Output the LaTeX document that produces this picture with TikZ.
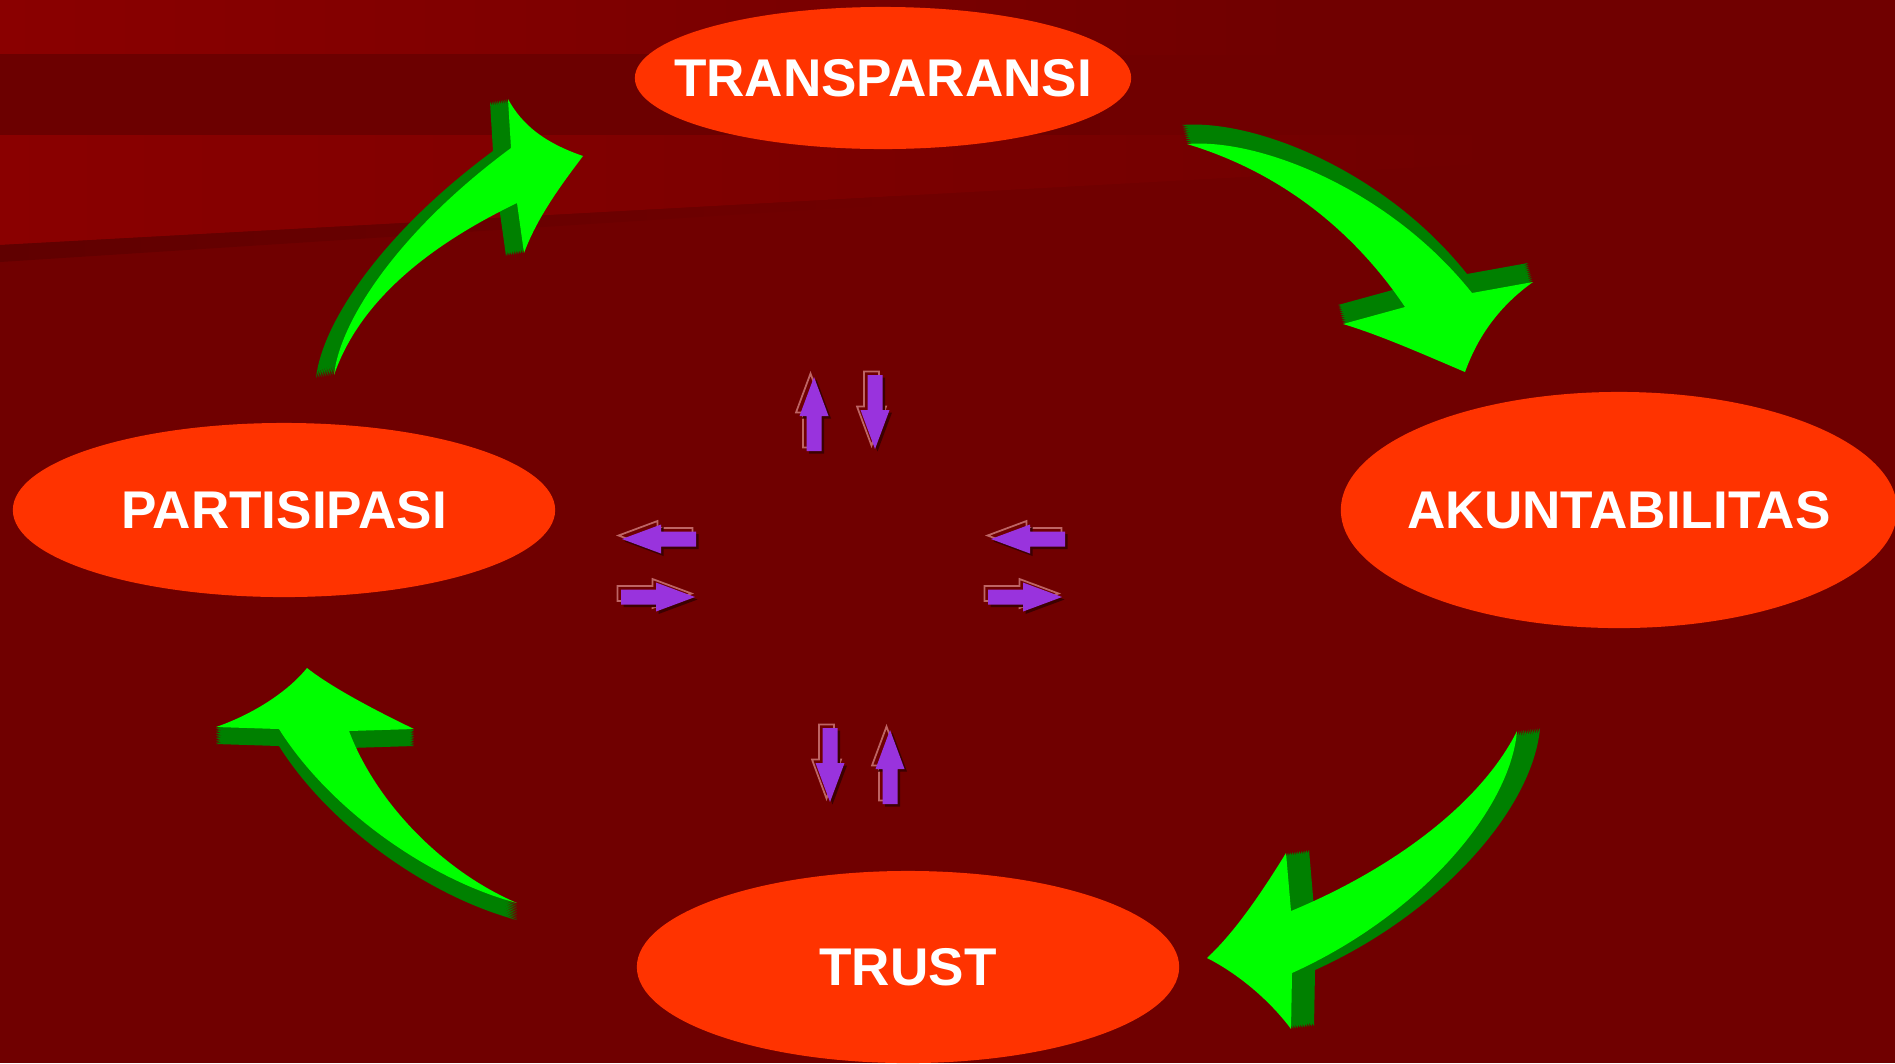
\documentclass[tikz,border=0pt]{standalone}
\usepackage{fontspec}
\setmainfont{Liberation Sans}
\usetikzlibrary{shapes.geometric}

\definecolor{bgred}{RGB}{112,0,0}
\definecolor{bandred}{RGB}{138,0,0}
\definecolor{midred}{RGB}{108,0,0}
\definecolor{edgered}{RGB}{96,0,0}
\definecolor{ovalred}{RGB}{255,51,0}
\definecolor{gbright}{RGB}{0,255,0}
\definecolor{gdark}{RGB}{0,128,0}
\definecolor{arrowviolet}{RGB}{153,51,221}
\definecolor{hilite}{RGB}{190,100,100}
\definecolor{shadowred}{RGB}{60,0,0}

\begin{document}
\begin{tikzpicture}[x=0.01cm,y=-0.01cm,
	oval/.style={ellipse, fill=ovalred, inner sep=0pt},
	ovaltext/.style={text=white, inner sep=0pt,
		font=\fontsize{15.1}{18}\selectfont\bfseries},
	blockarr/.pic={\path[pic actions] (-37,-7.5) -- (-2,-7.5) -- (-2,-14.5) -- (37,0)
		-- (-2,14.5) -- (-2,7.5) -- (-37,7.5) -- cycle;}]
	
	% --- Background
	\useasboundingbox (0,0) rectangle (1895,1063);
	\clip (0,0) rectangle (1895,1063);
	\fill[bgred] (0,0) rectangle (1895,1063);
	\shade[left color=bandred, right color=bgred] (0,0) rectangle (1300,54);
	\fill[midred] (0,54) rectangle (1100,135);
	\shade[left color=bandred, right color=bgred] (0,135) -- (1500,135) -- (1500,163) -- (0,245) -- cycle;
	\shade[left color=edgered, right color=bgred] (0,245) -- (900,196) -- (900,204) -- (0,262) -- cycle;
	
	% --- The four principles
	\node[oval, minimum width=4.96cm, minimum height=1.42cm,
		label={[ovaltext]center:TRANSPARANSI}] (trans) at (883,78) {};
	\node[oval, minimum width=5.56cm, minimum height=2.36cm,
		label={[ovaltext]center:AKUNTABILITAS}] (akun) at (1619,510) {};
	\node[oval, minimum width=5.42cm, minimum height=1.92cm,
		label={[ovaltext]center:TRUST}] (trust) at (908,967) {};
	\node[oval, minimum width=5.42cm, minimum height=1.74cm,
		label={[ovaltext]center:PARTISIPASI}] (partis) at (284,510) {};
	
	% --- Curved green arrows (dark copies first give the 3D side)
	% partisipasi -> transparansi
	\foreach \s in {10,...,0}{
		\ifnum\s>0 \def\gcol{gdark}\else\def\gcol{gbright}\fi
		\fill[\gcol, shift={(-1.8*\s,0.3*\s)}] (334,375) .. controls (340,320) and (400,230) .. (511,148)
		-- (508,99) .. controls (522,125) and (545,143) .. (583,156)
		.. controls (565,180) and (538,215) .. (524,253)
		-- (517,203) .. controls (430,245) and (360,300) .. cycle;
	}
	% transparansi -> akuntabilitas
	\foreach \s in {10,...,0}{
		\ifnum\s>0 \def\gcol{gdark}\else\def\gcol{gbright}\fi
		\fill[\gcol, shift={(-0.5*\s,-1.9*\s)}] (1187,144) .. controls (1260,138) and (1390,190) .. (1472,293)
		-- (1533,282) .. controls (1505,302) and (1480,330) .. (1465,372)
		.. controls (1425,355) and (1380,335) .. (1343,324)
		-- (1405,307) .. controls (1360,240) and (1290,175) .. cycle;
	}
	% akuntabilitas -> trust
	\foreach \s in {10,...,0}{
		\ifnum\s>0 \def\gcol{gdark}\else\def\gcol{gbright}\fi
		\fill[\gcol, shift={(2.3*\s,-0.3*\s)}] (1517,731) .. controls (1510,810) and (1420,915) .. (1292,973)
		-- (1291,1029) .. controls (1268,998) and (1235,972) .. (1207,958)
		.. controls (1235,932) and (1262,892) .. (1286,853)
		-- (1291,911) .. controls (1390,870) and (1480,805) .. cycle;
	}
	% trust -> partisipasi
	\foreach \s in {10,...,0}{
		\ifnum\s>0 \def\gcol{gdark}\else\def\gcol{gbright}\fi
		\fill[\gcol, shift={(0,1.7*\s)}] (517,903) .. controls (430,880) and (330,810) .. (279,729)
		-- (216,727) .. controls (248,716) and (285,695) .. (307,668)
		.. controls (335,690) and (385,715) .. (414,729)
		-- (349,731) .. controls (375,800) and (440,870) .. cycle;
	}
	
	% --- Small violet two-way arrows in the middle
	\foreach \x/\y/\a in {814/414/90, 875/412/-90, 659/539/180, 658/597/0,
		1028/539/180, 1025/597/0, 830/765/-90, 890/767/90}{
		\pic[draw=hilite, line width=0.5pt, shift={(\x-3.5,\y-3.5)}, rotate=\a] {blockarr};
		\pic[fill=shadowred, shift={(\x+2.5,\y+2.5)}, rotate=\a] {blockarr};
		\pic[fill=arrowviolet, shift={(\x,\y)}, rotate=\a] {blockarr};
	}
	
\end{tikzpicture}
\end{document}
